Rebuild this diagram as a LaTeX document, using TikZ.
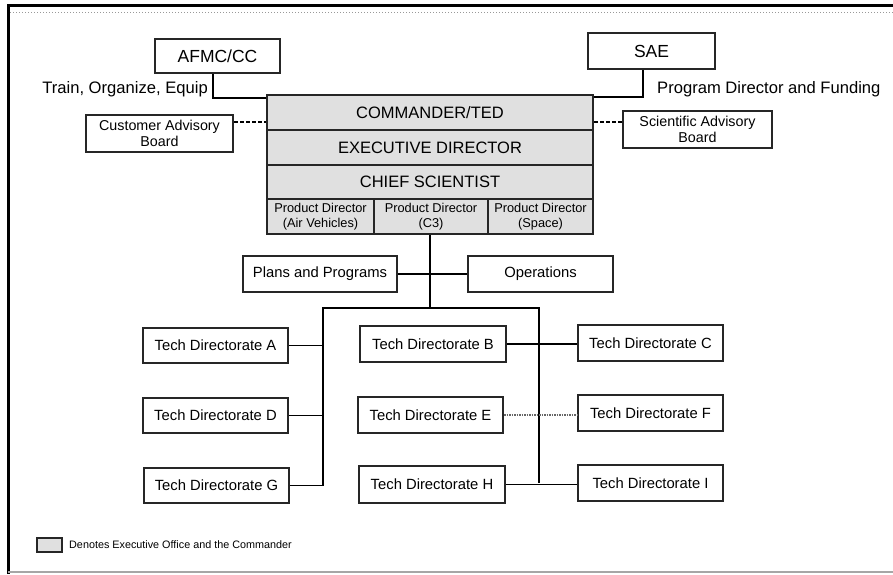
\documentclass[tikz,border=0pt]{standalone}
\usepackage{fontspec}
\setmainfont{Liberation Sans}
\begin{document}
\begin{tikzpicture}[x=1pt,y=-1pt,
  box/.style={draw=black!85, line width=2pt, fill=white, inner sep=0pt, align=center},
  exec/.style={box, fill=black!12},
  conn/.style={draw=black, line width=1.8pt},
  dconn/.style={draw=black, line width=1.8pt, dash pattern=on 4pt off 2pt},
  fconn/.style={draw=black!60, line width=1.5pt, dash pattern=on 1.5pt off 1pt},
  fbig/.style={font=\fontsize{17.5}{19}\selectfont},
  frow/.style={font=\fontsize{16.5}{18}\selectfont},
  ftech/.style={font=\fontsize{14.8}{16}\selectfont},
  fboard/.style={font=\fontsize{14.3}{16}\selectfont},
  fpd/.style={font=\fontsize{12.8}{15.5}\selectfont},
  flab/.style={font=\fontsize{16.6}{18}\selectfont, inner sep=0pt},
  fleg/.style={font=\fontsize{10.8}{12}\selectfont, inner sep=0pt}
]
\useasboundingbox (0,0) rectangle (893,574);
% frame
\draw[line width=3pt] (8,574) -- (8,5) -- (893,5);
\draw[black!35, line width=1.5pt] (8,572) -- (893,572);
\draw[black!40, line width=1pt, dotted] (10,12) -- (893,12);

% top
\node[box, fbig, minimum width=125, minimum height=34] (afmc) at (217.5,56) {AFMC/CC};
\node[box, fbig, minimum width=127, minimum height=36] (sae) at (651.5,51) {SAE};
\node[flab, anchor=east] (lt) at (208,89) {Train, Organize, Equip};
\node[flab, anchor=west] (rt) at (657,89) {Program Director and Funding};

% executive office
\node[exec, frow, minimum width=326, minimum height=35] (cmd1) at (430,112.5) {COMMANDER/TED};
\node[exec, frow, minimum width=326, minimum height=35] (cmd2) at (430,147.5) {EXECUTIVE DIRECTOR};
\node[exec, frow, minimum width=326, minimum height=34] (cmd3) at (430,182) {CHIEF SCIENTIST};
\node[exec, fpd, minimum width=107, minimum height=35] (pd1) at (320.5,216.5) {Product Director\\(Air Vehicles)};
\node[exec, fpd, minimum width=114, minimum height=35] (pd2) at (431,216.5) {Product Director\\(C3)};
\node[exec, fpd, minimum width=105, minimum height=35] (pd3) at (540.5,216.5) {Product Director\\(Space)};

% boards
\node[box, fboard, minimum width=147, minimum height=37] (cab) at (159.5,133.5) {Customer Advisory\\Board};
\node[box, fboard, minimum width=149, minimum height=37] (sab) at (697.5,129.5) {Scientific Advisory\\Board};

% staff
\node[box, ftech, minimum width=154, minimum height=36] (plans) at (320,274) {Plans and Programs};
\node[box, ftech, minimum width=145, minimum height=36] (ops) at (540.5,274) {Operations};

% tech directorates
\node[box, ftech, minimum width=145, minimum height=35] (tA) at (215.5,345.5) {Tech Directorate A};
\node[box, ftech, minimum width=145, minimum height=35] (tD) at (215.5,415.5) {Tech Directorate D};
\node[box, ftech, minimum width=145, minimum height=35] (tG) at (216.5,485.5) {Tech Directorate G};
\node[box, ftech, minimum width=146, minimum height=36] (tB) at (433,344) {Tech Directorate B};
\node[box, ftech, minimum width=145, minimum height=36] (tE) at (430.5,415) {Tech Directorate E};
\node[box, ftech, minimum width=146, minimum height=37] (tH) at (432,484.5) {Tech Directorate H};
\node[box, ftech, minimum width=145, minimum height=36] (tC) at (650.5,343) {Tech Directorate C};
\node[box, ftech, minimum width=145, minimum height=36] (tF) at (650.5,413) {Tech Directorate F};
\node[box, ftech, minimum width=145, minimum height=36] (tI) at (650.5,483) {Tech Directorate I};

% legend
\node[exec, line width=2pt, minimum width=25, minimum height=14] (legbox) at (49.5,545) {};
\node[fleg, anchor=west] (legtext) at (69,545) {Denotes Executive Office and the Commander};

% connectors
\coordinate (bus) at (430,308);
\coordinate (jL) at (323,308);
\coordinate (jR) at (539,308);
\draw[conn] ([xshift=-4.5pt]afmc.south) |- ([yshift=-4pt]cmd1.north west);
\draw[conn] ([xshift=-8.5pt]sae.south) |- ([yshift=-3pt]cmd1.north east);
\draw[dconn] ([yshift=-8pt]cab.north east) -- ([yshift=-8pt]cab.north east -| cmd1.west);
\draw[dconn] ([yshift=-12pt]sab.north west) -- ([yshift=-12pt]sab.north west -| cmd1.east);
\draw[conn] ([xshift=-1pt]pd2.south) -- (bus);
\draw[conn] (plans.east) -- (ops.west);
\draw[conn] (tG.east) -| (jL) -- (jR) -- (jR |- tI.west);
\draw[conn] (tA.east) -- (tA.east -| jL);
\draw[conn] (tD.east) -- (tD.east -| jL);
\draw[conn] (tB.east) -- (tB.east -| tC.west);
\draw[fconn] (tE.east) -- (tE.east -| tF.west);
\draw[conn] (tH.east) -- (tH.east -| tI.west);
\end{tikzpicture}
\end{document}
